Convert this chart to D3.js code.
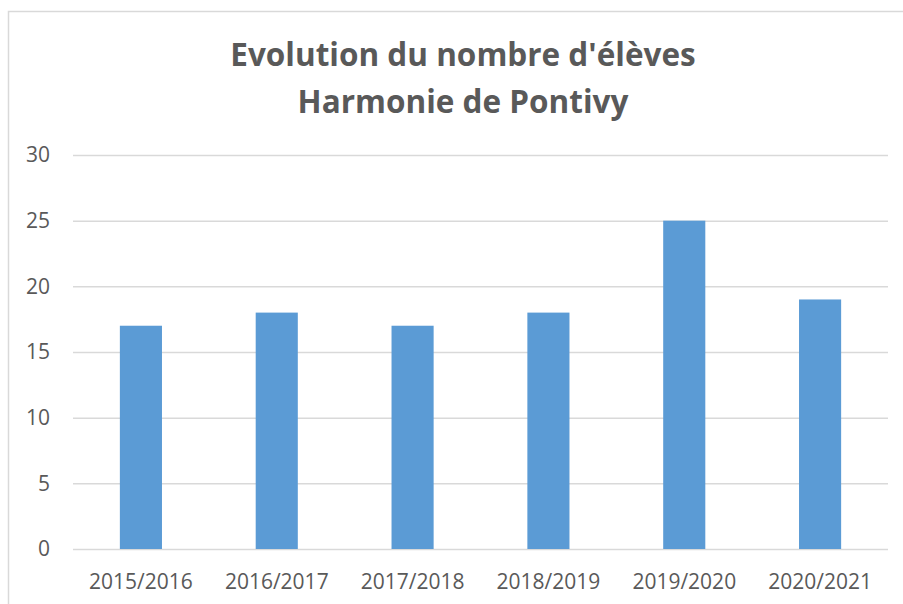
<!DOCTYPE html>
<html><head><meta charset="utf-8">
<script src="https://cdn.jsdelivr.net/npm/d3@7/dist/d3.min.js"></script>
<style>body{margin:0;background:#fff}svg{display:block}</style>
</head><body>
<svg id="c" width="903" height="604"></svg>
<script>
const categories = ["2015/2016","2016/2017","2017/2018","2018/2019","2019/2020","2020/2021"];
const values = [17, 18, 17, 18, 25, 19];
const yTicks = [0, 5, 10, 15, 20, 25, 30];
const titleLines = ["Evolution du nombre d'élèves", "Harmonie de Pontivy"];

const svg = d3.select("#c");
const font = "'Open Sans', sans-serif";
const textColor = "#595959";

svg.append("rect").attr("x", 8.5).attr("y", 11.5).attr("width", 910).attr("height", 610)
  .attr("fill", "#fff").attr("stroke", "#d9d9d9").attr("stroke-width", 1.5);

const x = d3.scaleBand().domain(categories).range([73, 888]).paddingInner(0.69).paddingOuter(0.345);
const y = d3.scaleLinear().domain([0, 30]).range([549, 155]);

const g = svg.append("g");
const yAxis = d3.axisLeft(y).tickValues(yTicks).tickSize(-(888 - 73)).tickPadding(23);
const ya = g.append("g").attr("transform", "translate(73,0)").call(yAxis);
ya.select(".domain").remove();
ya.selectAll(".tick line").attr("stroke", "#d9d9d9").attr("stroke-width", 1.5);
ya.selectAll(".tick text").attr("fill", textColor).attr("font-family", font).attr("font-size", 21);

g.selectAll("rect.bar").data(values).enter().append("rect").attr("class", "bar")
  .attr("x", (d, i) => x(categories[i])).attr("width", x.bandwidth())
  .attr("y", d => y(d)).attr("height", d => y(0) - y(d)).attr("fill", "#5b9bd5");

const xAxis = d3.axisBottom(x).tickSize(0).tickPadding(25);
const xa = g.append("g").attr("transform", "translate(0,549)").call(xAxis);
xa.select(".domain").remove();
xa.selectAll(".tick text").attr("fill", textColor).attr("font-family", font).attr("font-size", 21);

svg.selectAll("text.title").data(titleLines).enter().append("text").attr("class", "title")
  .attr("x", 463).attr("y", (d, i) => 66 + i * 46.5).attr("text-anchor", "middle")
  .attr("font-family", font).attr("font-weight", "bold").attr("font-size", 31.5)
  .attr("fill", textColor).text(d => d);
</script>
</body></html>
